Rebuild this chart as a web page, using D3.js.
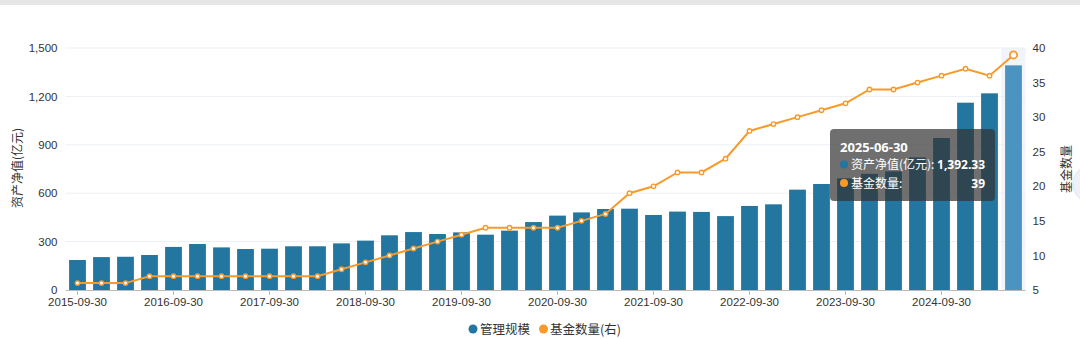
<!DOCTYPE html>
<html><head><meta charset="utf-8">
<script src="https://cdn.jsdelivr.net/npm/d3@7/dist/d3.min.js"></script>
<style>
html,body{margin:0;padding:0;background:#fff;}
svg{display:block;font-family:"Noto Sans","Noto Sans CJK SC",sans-serif;}
</style></head>
<body>
<svg id="chart" width="1080" height="339"></svg>
<script>
const dates = ["2015-09-30","2015-12-31","2016-03-31","2016-06-30","2016-09-30","2016-12-31","2017-03-31","2017-06-30",
"2017-09-30","2017-12-31","2018-03-31","2018-06-30","2018-09-30","2018-12-31","2019-03-31","2019-06-30",
"2019-09-30","2019-12-31","2020-03-31","2020-06-30","2020-09-30","2020-12-31","2021-03-31","2021-06-30",
"2021-09-30","2021-12-31","2022-03-31","2022-06-30","2022-09-30","2022-12-31","2023-03-31","2023-06-30",
"2023-09-30","2023-12-31","2024-03-31","2024-06-30","2024-09-30","2024-12-31","2025-03-31","2025-06-30"];
const netAssets = [186,204,206,217,267,285,264,254,256,271,271,289,306,339,359,347,357,343,368,421,
461,481,502,504,465,486,484,458,521,531,622,657,692,720,735,822,942,1161,1219,1392.33];
const fundCounts = [6,6,6,7,7,7,7,7,7,7,7,8,9,10,11,12,13,14,14,14,14,15,16,19,20,22,22,24,28,29,
30,31,32,34,34,35,36,37,36,39];
const leftTicks = [0,300,600,900,1200,1500];
const rightTicks = [5,10,15,20,25,30,35,40];
const xLabelDates = dates.filter((d,i)=>i%4===0);
const seriesNames = ["管理规模","基金数量(右)"];
const leftTitle = "资产净值(亿元)";
const rightTitle = "基金数量";
const hoverIndex = 39;

const BLUE = "#22769f", BLUE_HI = "#4b94c1", ORANGE = "#f89a2a";
const svg = d3.select("#chart");
const L = 65.5, R = 1025.5, T = 48, B = 290;

// top gray strip
svg.append("rect").attr("x",0).attr("y",0).attr("width",1080).attr("height",5).attr("fill","#e6e6e6");
// floating button edge at right
svg.append("circle").attr("cx",1092).attr("cy",184).attr("r",19).attr("fill","#eef1f8").attr("stroke","#e0e4ee");

const x = d3.scaleBand().domain(dates).range([L,R]).paddingInner(0.3).paddingOuter(0.15);
const yL = d3.scaleLinear().domain([0,1500]).range([B,T]);
const yR = d3.scaleLinear().domain([5,40]).range([B,T]);

// hover shadow band
svg.append("rect").attr("x", x(dates[hoverIndex]) - x.step()*0.15).attr("y",T)
  .attr("width", x.step()).attr("height", B-T).attr("fill","#f1f4fa");

// gridlines
svg.append("g").selectAll("line").data(leftTicks.filter(t=>t>0)).join("line")
  .attr("x1",L).attr("x2",R).attr("y1",d=>yL(d)).attr("y2",d=>yL(d))
  .attr("stroke","#eceff5").attr("stroke-width",1);

// left axis
const gl = svg.append("g").attr("transform",`translate(${L},0)`)
  .call(d3.axisLeft(yL).tickValues(leftTicks).tickFormat(d3.format(",")).tickSize(0).tickPadding(8));
gl.select(".domain").remove();
gl.selectAll("text").attr("fill","#333").attr("font-size","11.5px");

// right axis
const gr = svg.append("g").attr("transform",`translate(${R},0)`)
  .call(d3.axisRight(yR).tickValues(rightTicks).tickSize(0).tickPadding(7));
gr.select(".domain").remove();
gr.selectAll("text").attr("fill","#333").attr("font-size","11.5px");

// axis titles
svg.append("text").attr("transform","translate(22,168) rotate(-90)").attr("text-anchor","middle")
  .attr("font-size","12px").attr("fill","#333").attr("font-family","Noto Sans CJK SC").text(leftTitle);
svg.append("text").attr("transform","translate(1071,169) rotate(-90)").attr("text-anchor","middle")
  .attr("font-size","12px").attr("fill","#333").attr("font-family","Noto Sans CJK SC").text(rightTitle);

// bars
svg.append("g").selectAll("rect").data(dates).join("rect")
  .attr("x",d=>x(d)).attr("width",x.bandwidth())
  .attr("y",(d,i)=>yL(netAssets[i])).attr("height",(d,i)=>B-yL(netAssets[i]))
  .attr("fill",(d,i)=>i===hoverIndex?BLUE_HI:BLUE);

// x axis
const gx = svg.append("g").attr("transform",`translate(0,${B})`)
  .call(d3.axisBottom(x).tickValues(xLabelDates).tickSize(5).tickPadding(3));
gx.select(".domain").attr("stroke","#bbb").attr("d",`M${L},0.5H${R}`);
gx.selectAll(".tick line").attr("stroke","#bbb");
gx.selectAll("text").attr("fill","#333").attr("font-size","11.5px");

// line
const cx = i => x(dates[i]) + x.bandwidth()/2;
const line = d3.line().x((d,i)=>cx(i)).y(d=>yR(d));
svg.append("path").datum(fundCounts).attr("d",line).attr("fill","none")
  .attr("stroke",ORANGE).attr("stroke-width",2);
svg.append("g").selectAll("circle").data(fundCounts).join("circle")
  .attr("cx",(d,i)=>cx(i)).attr("cy",d=>yR(d)).attr("r",(d,i)=>i===hoverIndex?3.6:2.2)
  .attr("fill","#fff").attr("stroke",ORANGE).attr("stroke-width",(d,i)=>i===hoverIndex?1.8:1.4);

// legend
const lg = svg.append("g").attr("font-size","12.5px").attr("font-family","Noto Sans CJK SC").attr("fill","#333");
lg.append("circle").attr("cx",473).attr("cy",329).attr("r",4.5).attr("fill",BLUE);
lg.append("text").attr("x",480).attr("y",333.5).text(seriesNames[0]);
lg.append("circle").attr("cx",543.5).attr("cy",329).attr("r",4.5).attr("fill",ORANGE);
lg.append("text").attr("x",550).attr("y",333.5).text(seriesNames[1]);

// tooltip
const tt = svg.append("g");
tt.append("rect").attr("x",830).attr("y",129).attr("width",165).attr("height",72).attr("rx",4)
  .attr("fill","rgba(50,50,50,0.7)");
tt.append("text").attr("x",840).attr("y",152).attr("fill","#fff").attr("font-weight","bold")
  .attr("font-size","13px").text(dates[hoverIndex]);
tt.append("circle").attr("cx",844).attr("cy",164.5).attr("r",4).attr("fill",BLUE);
tt.append("text").attr("x",851).attr("y",169).attr("fill","#fff").attr("font-size","12px")
  .attr("font-family","Noto Sans CJK SC").text(leftTitle+":");
tt.append("text").attr("x",985).attr("y",169).attr("text-anchor","end").attr("fill","#fff")
  .attr("font-weight","bold").attr("font-size","12px").text(d3.format(",.2f")(netAssets[hoverIndex]));
tt.append("circle").attr("cx",844).attr("cy",183).attr("r",4).attr("fill",ORANGE);
tt.append("text").attr("x",851).attr("y",187.5).attr("fill","#fff").attr("font-size","12px")
  .attr("font-family","Noto Sans CJK SC").text(rightTitle+":");
tt.append("text").attr("x",985).attr("y",187.5).attr("text-anchor","end").attr("fill","#fff")
  .attr("font-weight","bold").attr("font-size","12px").text(fundCounts[hoverIndex]);
</script>
</body></html>
